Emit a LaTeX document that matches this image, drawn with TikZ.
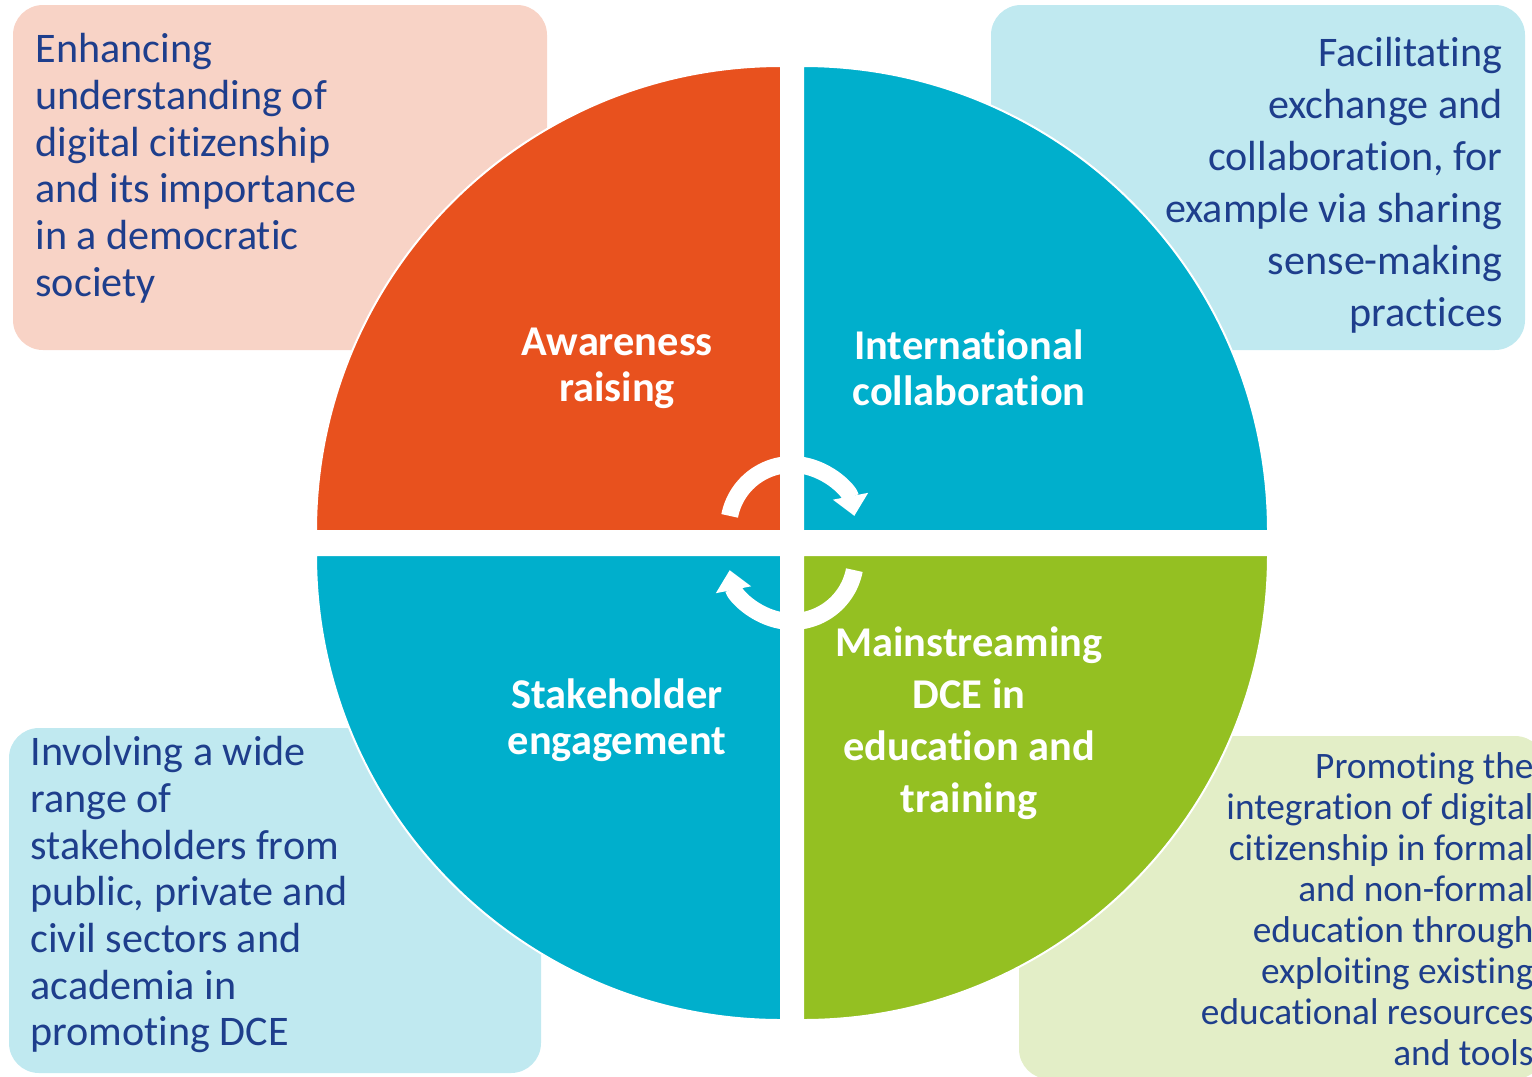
\documentclass[tikz,border=0pt]{standalone}
\usepackage{fontspec}
\setmainfont{Carlito}[Ligatures=NoCommon]
\usetikzlibrary{arrows.meta}

\definecolor{awarecol}{RGB}{232,81,30}
\definecolor{collabcol}{RGB}{0,175,204}
\definecolor{maincol}{RGB}{148,192,34}
\definecolor{pinkbox}{RGB}{248,211,198}
\definecolor{bluebox}{RGB}{192,233,240}
\definecolor{greenbox}{RGB}{227,238,199}
\definecolor{textblue}{RGB}{30,62,140}

\tikzset{every picture/.style={line width=0.75pt}}

\begin{document}
\begin{tikzpicture}[x=0.75pt,y=0.75pt,yscale=-1,xscale=1,
  notebox/.style={rounded corners=22.5pt},
  quarter/.style={draw=white,line width=1.5pt},
  notetext/.style={text=textblue,inner sep=0pt,font=\fontsize{31.6}{35}\selectfont},
  pietext/.style={text=white,inner sep=0pt,align=center,font=\bfseries\fontsize{31.8}{34.5}\selectfont},
  turn/.style={draw=white,line width=12.75pt,-{Triangle[width=26pt,length=15pt]}}]
\useasboundingbox (0,0) rectangle (1532,1076);
\clip (0,0) rectangle (1532,1076);

%Shape: Rounded Rect [id:boxaware]
\fill[pinkbox,notebox] (13,5) rectangle (547,350);
%Shape: Rounded Rect [id:boxcollab]
\fill[bluebox,notebox] (991,5) rectangle (1525,350);
%Shape: Rounded Rect [id:boxstake]
\fill[bluebox,notebox] (9,728) rectangle (541,1073);
%Shape: Rounded Rect [id:boxmain]
\fill[greenbox,notebox] (1019,736) rectangle (1545,1079);

%Shape: Quarter circle [id:aware]
\path[fill=awarecol,quarter] (781,531) -- (316,531) arc[start angle=180,end angle=270,radius=465] -- cycle;
%Shape: Quarter circle [id:collab]
\path[fill=collabcol,quarter] (803,531) -- (803,66) arc[start angle=270,end angle=360,radius=465] -- cycle;
%Shape: Quarter circle [id:main]
\path[fill=maincol,quarter] (803,555) -- (1268,555) arc[start angle=0,end angle=90,radius=465] -- cycle;
%Shape: Quarter circle [id:stake]
\path[fill=collabcol,quarter] (781,555) -- (781,1020) arc[start angle=90,end angle=180,radius=465] -- cycle;

%Curve Lines [id:turntop]
\draw[turn] (792,528) ++(191:63.5) arc[start angle=191,end angle=349,radius=63.5];
%Curve Lines [id:turnbottom]
\draw[turn] (792,558) ++(11:63.5) arc[start angle=11,end angle=169,radius=63.5];

% Text Node
\node[pietext] (aware) at (617,368) {Awareness\\raising};
% Text Node
\node[pietext] (collab) at (969,368) {International\\collaboration};
% Text Node
\node[pietext] (stake) at (617,720) {Stakeholder\\engagement};
% Text Node
\node[pietext,font=\bfseries\fontsize{31.8}{39}\selectfont] (mainstr) at (969,723) {Mainstreaming\\DCE in\\education and\\training};

% Text Node
\node[notetext,anchor=north west,align=left] (enhance) at (35,33) {Enhancing\\understanding of\\digital citizenship\\and its importance\\in a democratic\\society};
% Text Node
\node[notetext,anchor=north east,align=right,font=\fontsize{31.6}{39}\selectfont] (facil) at (1503,37) {Facilitating\\exchange and\\collaboration, for\\example via sharing\\sense-making\\practices};
% Text Node
\node[notetext,anchor=north west,align=left] (involve) at (30,736) {Involving a wide\\range of\\stakeholders from\\public, private and\\civil sectors and\\academia in\\promoting DCE};
% Text Node
\node[notetext,anchor=north east,align=right,font=\fontsize{28}{30.75}\selectfont] (promote) at (1534,752) {Promoting the\\integration of digital\\citizenship in formal\\and non-formal\\education through\\exploiting existing\\educational resources\\and tools};

\end{tikzpicture}
\end{document}
